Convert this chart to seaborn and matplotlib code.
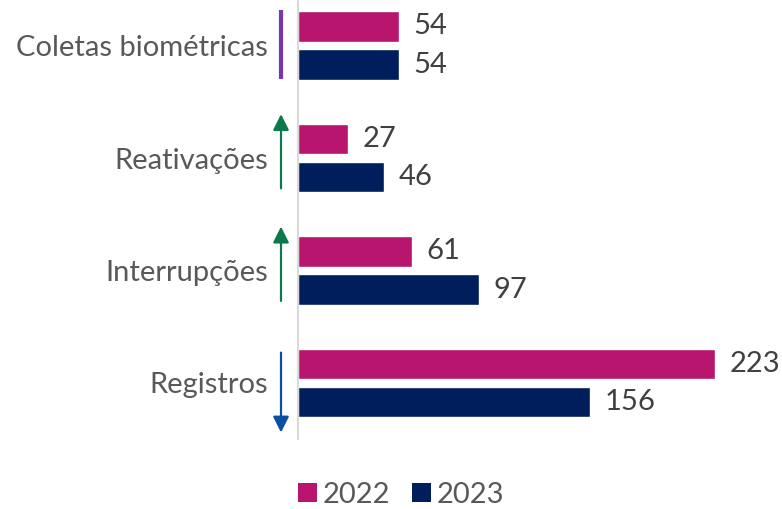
import matplotlib
matplotlib.use("Agg")
import matplotlib.pyplot as plt
from matplotlib.patches import Patch
import seaborn as sns
import pandas as pd

categories = ["Coletas biométricas", "Reativações", "Interrupções", "Registros"]
years = ["2022", "2023"]
values_2022 = [54, 27, 61, 223]
values_2023 = [54, 46, 97, 156]
trend = ["flat", "up", "up", "down"]

colors = {"2022": "#B8156E", "2023": "#011E5C"}
trend_colors = {"flat": "#7A35AE", "up": "#0B7A4B", "down": "#0B4FA3"}

df = pd.DataFrame({
    "categoria": categories * 2,
    "ano": [years[0]] * len(categories) + [years[1]] * len(categories),
    "valor": values_2022 + values_2023,
})

sns.set_theme(style="white")
plt.rcParams["font.family"] = ["Lato", "DejaVu Sans"]

W, H, DPI = 782, 509, 100
fig = plt.figure(figsize=(W / DPI, H / DPI), dpi=DPI)
ax_left, ax_right, ax_top, ax_bottom = 298, 782, 0, 439
ax = fig.add_axes([ax_left / W, 1 - ax_bottom / H,
                   (ax_right - ax_left) / W, (ax_bottom - ax_top) / H])

sns.barplot(data=df, y="categoria", x="valor", hue="ano", order=categories,
            hue_order=years, palette=colors, orient="h", width=0.676, gap=0.21,
            ax=ax, legend=False, saturation=1)

px_per_cat = 112.5
ax.set_ylim((ax_bottom - 45.5) / px_per_cat, (ax_top - 45.5) / px_per_cat)
ax.set_xlim(0, (ax_right - ax_left) / 1.87)

for cont in ax.containers:
    ax.bar_label(cont, fmt="%d", padding=10.5, fontsize=21, color="#404040")

ax.set_xlabel("")
ax.set_ylabel("")
ax.set_xticks([])
ax.tick_params(axis="y", length=0, pad=21.5, labelsize=21, labelcolor="#595959")
for s in ["top", "right", "bottom"]:
    ax.spines[s].set_visible(False)
ax.spines["left"].set_color("#D9D9D9")
ax.spines["left"].set_linewidth(1.5)

# trend markers beside each category
x_mark = (281 - ax_left) / (ax_right - ax_left)
for i, t in enumerate(trend):
    c = trend_colors[t]
    if t == "flat":
        ax.plot([x_mark, x_mark], [i - 0.316, i + 0.298], color=c, lw=3,
                transform=ax.get_yaxis_transform(), clip_on=False,
                solid_capstyle="butt")
    else:
        if t == "up":
            tail, tip = i + 0.27, i - 0.39
        else:
            tail, tip = i - 0.27, i + 0.44
        ax.annotate("", xy=(x_mark, tip), xytext=(x_mark, tail),
                    xycoords=("axes fraction", "data"),
                    textcoords=("axes fraction", "data"),
                    annotation_clip=False,
                    arrowprops=dict(arrowstyle="-|>,head_length=0.6,head_width=0.3",
                                    mutation_scale=16, color=c, lw=1.6,
                                    shrinkA=0, shrinkB=0))

handles = [Patch(facecolor=colors[y], edgecolor="none", label=y) for y in years]
fig.legend(handles=handles, loc="center", bbox_to_anchor=(401 / W, 1 - 495 / H),
           ncol=2, frameon=False, fontsize=21, labelcolor="#595959",
           handlelength=0.65, handleheight=0.65, handletextpad=0.2,
           columnspacing=0.75)

fig.savefig("out.png", dpi=DPI, facecolor="white")
